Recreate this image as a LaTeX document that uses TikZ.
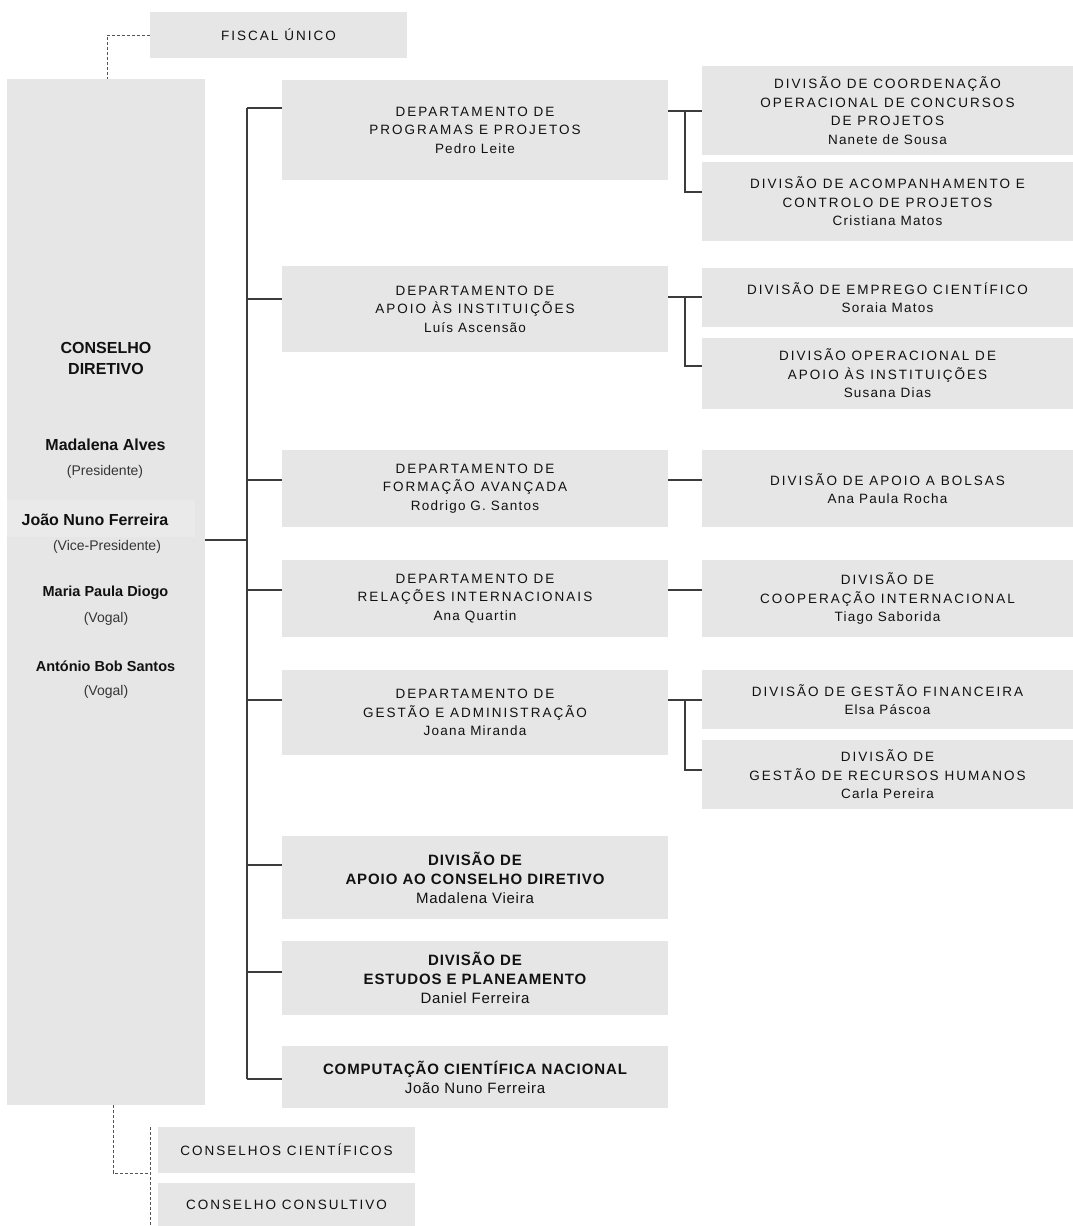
\documentclass[tikz,border=0pt]{standalone}
\usepackage{fontspec}
\setmainfont{Liberation Sans}
\newfontfamily\capsf[LetterSpace=15]{Liberation Sans}
\newfontfamily\namef[LetterSpace=9]{Liberation Sans}
\newfontfamily\boldsp[LetterSpace=6]{Liberation Sans}
\newfontfamily\bnamef[LetterSpace=5]{Liberation Sans}
\newcommand\nm[1]{{\namef #1}}
\newcommand\bnm[1]{{\bnamef\mdseries #1}}
\definecolor{boxgray}{HTML}{E6E6E6}
\definecolor{boxlight}{HTML}{EAEAEA}
\definecolor{linecol}{HTML}{3C3C3C}
\definecolor{dashcol}{HTML}{555555}
\definecolor{txt}{HTML}{111111}
\begin{document}
\begin{tikzpicture}[x=1pt,y=-1pt,
  box/.style={fill=boxgray, inner sep=0pt, align=center, text=txt},
  regbox/.style={box, font=\fontsize{13.5pt}{18.5pt}\selectfont\capsf},
  boldbox/.style={box, font=\fontsize{15pt}{19pt}\selectfont\boldsp\bfseries},
  cdbig/.style={text=txt, inner sep=0pt, font=\fontsize{16pt}{21pt}\selectfont\bfseries},
  cdmid/.style={text=txt, inner sep=0pt, font=\fontsize{14.5pt}{18pt}\selectfont\bfseries},
  cdsmall/.style={text=txt!85, inner sep=0pt, font=\fontsize{14pt}{18pt}\selectfont},
  conn/.style={draw=linecol, line width=1.5pt},
  dsh/.style={draw=dashcol, line width=0.9pt, dash pattern=on 3pt off 2pt}
]
\useasboundingbox (0,0) rectangle (1073,1226);
\fill[white] (0,0) rectangle (1073,1226);

% top and left
\node[regbox, minimum width=257pt, minimum height=46pt] (fiscal) at (278.5,35) {FISCAL ÚNICO};
\node[box, minimum width=198pt, minimum height=1026pt] (cd) at (106,592) {};
\fill[boxlight] (7,500) rectangle (195,537);
\node[cdbig] (cdt1) at (106,348) {CONSELHO};
\node[cdbig] (cdt2) at (106,369) {DIRETIVO};
\node[cdbig] (m1) at (105.5,445) {Madalena Alves};
\node[cdsmall] (m1r) at (105,472) {(Presidente)};
\node[cdbig] (m2) at (95,520) {João Nuno Ferreira};
\node[cdsmall] (m2r) at (107,547) {(Vice-Presidente)};
\node[cdmid] (m3) at (105.5,593) {Maria Paula Diogo};
\node[cdsmall] (m3r) at (106,619) {(Vogal)};
\node[cdmid] (m4) at (105.5,666) {António Bob Santos};
\node[cdsmall] (m4r) at (106,692) {(Vogal)};

% departments column
\node[regbox, minimum width=386pt, minimum height=100pt] (d1) at (475,130)
  {DEPARTAMENTO DE\\PROGRAMAS E PROJETOS\\\nm{Pedro Leite}};
\node[regbox, minimum width=386pt, minimum height=86pt] (d2) at (475,309)
  {DEPARTAMENTO DE\\APOIO ÀS INSTITUIÇÕES\\\nm{Luís Ascensão}};
\node[regbox, minimum width=386pt, minimum height=77pt] (d3) at (475,488.5)
  {DEPARTAMENTO DE\\FORMAÇÃO AVANÇADA\\\nm{Rodrigo G. Santos}};
\node[regbox, minimum width=386pt, minimum height=77pt] (d4) at (475,598.5)
  {DEPARTAMENTO DE\\RELAÇÕES INTERNACIONAIS\\\nm{Ana Quartin}};
\node[regbox, minimum width=386pt, minimum height=85pt] (d5) at (475,712.5)
  {DEPARTAMENTO DE\\GESTÃO E ADMINISTRAÇÃO\\\nm{Joana Miranda}};
\node[boldbox, minimum width=386pt, minimum height=83pt] (dac) at (475,877.5)
  {DIVISÃO DE\\APOIO AO CONSELHO DIRETIVO\\\bnm{Madalena Vieira}};
\node[boldbox, minimum width=386pt, minimum height=74pt] (dep) at (475,978)
  {DIVISÃO DE\\ESTUDOS E PLANEAMENTO\\\bnm{Daniel Ferreira}};
\node[boldbox, minimum width=386pt, minimum height=62pt] (ccn) at (475,1077)
  {COMPUTAÇÃO CIENTÍFICA NACIONAL\\\bnm{João Nuno Ferreira}};

% divisions column
\node[regbox, minimum width=371pt, minimum height=89pt] (r1) at (887.5,110.5)
  {DIVISÃO DE COORDENAÇÃO\\OPERACIONAL DE CONCURSOS\\DE PROJETOS\\\nm{Nanete de Sousa}};
\node[regbox, minimum width=371pt, minimum height=79pt] (r2) at (887.5,201.5)
  {DIVISÃO DE ACOMPANHAMENTO E\\CONTROLO DE PROJETOS\\\nm{Cristiana Matos}};
\node[regbox, minimum width=371pt, minimum height=59pt] (r3) at (887.5,297.5)
  {DIVISÃO DE EMPREGO CIENTÍFICO\\\nm{Soraia Matos}};
\node[regbox, minimum width=371pt, minimum height=71pt] (r4) at (887.5,373.5)
  {DIVISÃO OPERACIONAL DE\\APOIO ÀS INSTITUIÇÕES\\\nm{Susana Dias}};
\node[regbox, minimum width=371pt, minimum height=77pt] (r5) at (887.5,488.5)
  {DIVISÃO DE APOIO A BOLSAS\\\nm{Ana Paula Rocha}};
\node[regbox, minimum width=371pt, minimum height=77pt] (r6) at (887.5,598.5)
  {DIVISÃO DE\\COOPERAÇÃO INTERNACIONAL\\\nm{Tiago Saborida}};
\node[regbox, minimum width=371pt, minimum height=59pt] (r7) at (887.5,699.5)
  {DIVISÃO DE GESTÃO FINANCEIRA\\\nm{Elsa Páscoa}};
\node[regbox, minimum width=371pt, minimum height=69pt] (r8) at (887.5,774.5)
  {DIVISÃO DE\\GESTÃO DE RECURSOS HUMANOS\\\nm{Carla Pereira}};

% bottom boxes
\node[regbox, minimum width=257pt, minimum height=46pt] (cc) at (286.5,1150) {CONSELHOS CIENTÍFICOS};
\node[regbox, minimum width=257pt, minimum height=44pt] (ccons) at (286.5,1205) {CONSELHO CONSULTIVO};

% solid connectors
\draw[conn] (cd.east |- 0,540) -- (247,540);
\draw[conn] (247,108) -- (247,1079);
\foreach \n/\yy in {d1/108, d2/299, d3/480, d4/590, d5/700, dac/865, dep/972, ccn/1079}
  \draw[conn] (247,\yy) -- (\n.west |- 0,\yy);
\draw[conn] (d1.east |- 0,111) -- (r1.west |- 0,111);
\draw[conn] (685,111) -- (685,192) -- (r2.west |- 0,192);
\draw[conn] (d2.east |- 0,297) -- (r3.west |- 0,297);
\draw[conn] (685,297) -- (685,366) -- (r4.west |- 0,366);
\draw[conn] (d3.east |- 0,480) -- (r5.west |- 0,480);
\draw[conn] (d4.east |- 0,590) -- (r6.west |- 0,590);
\draw[conn] (d5.east |- 0,700) -- (r7.west |- 0,700);
\draw[conn] (685,700) -- (685,770) -- (r8.west |- 0,770);

% dashed connectors
\draw[dsh] (fiscal.west) -| (cd.north -| 107,0);
\draw[dsh] (cd.south -| 113,0) |- (150,1173);
\draw[dsh] (150,1127) -- (150,1230);
\end{tikzpicture}
\end{document}
